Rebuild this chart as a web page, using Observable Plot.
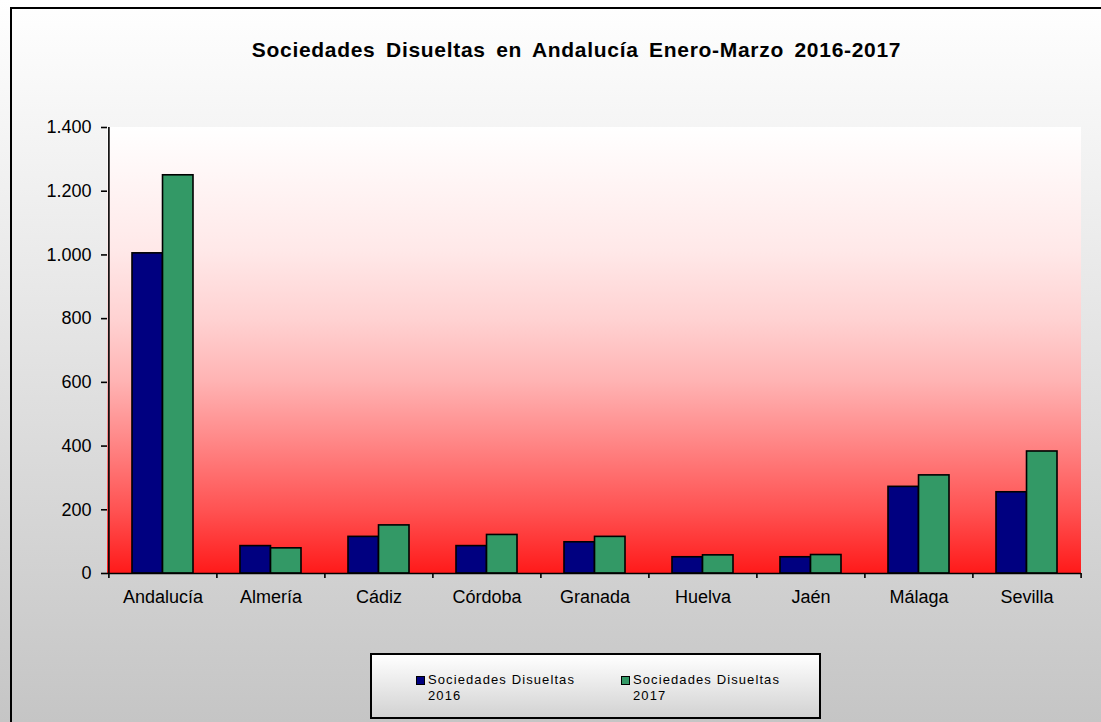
<!DOCTYPE html>
<html>
<head>
<meta charset="utf-8">
<script src="https://cdn.jsdelivr.net/npm/d3@7"></script>
<script src="https://cdn.jsdelivr.net/npm/@observablehq/plot@0.6"></script>
<style>
  html, body { margin: 0; padding: 0; }
  body { width: 1101px; height: 722px; overflow: hidden; font-family: "Liberation Sans", Arial, sans-serif; }
  #page { position: relative; width: 1101px; height: 722px; overflow: hidden;
          background: linear-gradient(#ffffff 0%, #c5c5c5 100%); }
  #box { position: absolute; left: 10px; top: 7px; width: 1200px; height: 800px; border: 2px solid #000; box-sizing: border-box; }
  #title { position: absolute; left: 0; width: 1153px; top: 38px; text-align: center;
           font-weight: bold; font-size: 21px; letter-spacing: 0.7px; word-spacing: 4px; color: #000; }
  #chart { position: absolute; left: 0; top: 0; }
  #legend { position: absolute; left: 370px; top: 653px; width: 451px; height: 66px; box-sizing: border-box;
            border: 2px solid #000; background: linear-gradient(#ffffff, #d2d2d2); font-size: 13px; letter-spacing: 1.1px; }
  .item { position: absolute; top: 17px; line-height: 16px; }
  .sw { position: absolute; left: -12px; top: 4px; width: 7px; height: 7px; border: 1px solid #000; }
</style>
</head>
<body>
<div id="page">
  <div id="box"></div>
  <div id="title">Sociedades Disueltas en Andalucía Enero-Marzo 2016-2017</div>
  <div id="chart"></div>
  <div id="legend"></div>
</div>
<script>
const provincias = ["Andalucía", "Almería", "Cádiz", "Córdoba", "Granada", "Huelva", "Jaén", "Málaga", "Sevilla"];
const disueltas2016 = [1005, 86, 115, 86, 98, 51, 51, 272, 255];
const disueltas2017 = [1250, 79, 151, 121, 115, 57, 58, 308, 383];
const yTicks = [0, 200, 400, 600, 800, 1000, 1200, 1400];
const seriesNames = ["Sociedades Disueltas 2016", "Sociedades Disueltas 2017"];
const seriesColors = ["#000080", "#339966"];

const rows2016 = provincias.map((p, i) => ({provincia: p, valor: disueltas2016[i]}));
const rows2017 = provincias.map((p, i) => ({provincia: p, valor: disueltas2017[i]}));

const W = 1101, H = 620;
const mL = 107, mR = 20, mT = 127, mB = 47;
const step = (W - mL - mR) / provincias.length;
const padInner = 0.436;
const bw = step * (1 - padInner);

const locale = d3.formatLocale({decimal: ",", thousands: ".", grouping: [3], currency: ["", " €"]});
const fmt = locale.format(",d");

// custom mark: gradient background of the plot area
function bgGradient(index, scales, values, dims) {
  const ns = "http://www.w3.org/2000/svg";
  const g = document.createElementNS(ns, "g");
  const defs = document.createElementNS(ns, "defs");
  const lg = document.createElementNS(ns, "linearGradient");
  lg.setAttribute("id", "plotbg");
  lg.setAttribute("x1", "0"); lg.setAttribute("y1", "0");
  lg.setAttribute("x2", "0"); lg.setAttribute("y2", "1");
  [["0%", "#ffffff"], ["28%", "#ffe8e8"], ["43%", "#ffd2d2"], ["57%", "#ffb3b3"],
   ["71%", "#ff8585"], ["86%", "#ff5252"], ["100%", "#ff1a1a"]].forEach(([o, c]) => {
    const s = document.createElementNS(ns, "stop");
    s.setAttribute("offset", o); s.setAttribute("stop-color", c);
    lg.appendChild(s);
  });
  defs.appendChild(lg);
  g.appendChild(defs);
  const r = document.createElementNS(ns, "rect");
  r.setAttribute("x", dims.marginLeft);
  r.setAttribute("y", dims.marginTop);
  r.setAttribute("width", dims.width - dims.marginLeft - dims.marginRight);
  r.setAttribute("height", dims.height - dims.marginTop - dims.marginBottom);
  r.setAttribute("fill", "url(#plotbg)");
  g.appendChild(r);
  return g;
}

const plot = Plot.plot({
  width: W, height: H,
  marginLeft: mL, marginRight: mR, marginTop: mT, marginBottom: mB,
  style: {background: "transparent", fontFamily: "Liberation Sans, Arial, sans-serif", fontSize: "18px", color: "#000", overflow: "visible"},
  x: {domain: provincias, paddingInner: padInner, paddingOuter: padInner / 2, label: null},
  y: {domain: [0, 1400], label: null},
  marks: [
    bgGradient,
    Plot.barY(rows2016, {x: "provincia", y: "valor", fill: seriesColors[0], stroke: "#000", strokeWidth: 1.6, insetRight: bw / 2}),
    Plot.barY(rows2017, {x: "provincia", y: "valor", fill: seriesColors[1], stroke: "#000", strokeWidth: 1.6, insetLeft: bw / 2}),
    // axis lines
    Plot.ruleY([0], {stroke: "#000", strokeWidth: 1.6}),
    Plot.ruleX([provincias[0]], {y1: 0, y2: 1400, dx: -step / 2, stroke: "#000", strokeWidth: 1.6}),
    // category boundary ticks
    Plot.ruleX(provincias, {y1: 0, y2: -16, dx: -step / 2, stroke: "#000", strokeWidth: 1.6}),
    Plot.ruleX([provincias[provincias.length - 1]], {y1: 0, y2: -16, dx: step / 2, stroke: "#000", strokeWidth: 1.6}),
    Plot.axisY({ticks: yTicks, tickFormat: fmt, tickSize: 6, tickPadding: 10, stroke: "#000", strokeWidth: 1.6, fontSize: 18, style: {letterSpacing: "1.5px"}}),
    Plot.axisX({tickSize: 0, tickPadding: 17, fontSize: 18, style: {letterSpacing: "1.2px"}})
  ]
});
document.getElementById("chart").appendChild(plot);

// legend
const leg = document.getElementById("legend");
const lefts = [56, 261];
seriesNames.forEach((name, i) => {
  const parts = name.split(" ");
  const yr = parts.pop();
  const it = document.createElement("div");
  it.className = "item";
  it.style.left = lefts[i] + "px";
  it.innerHTML = `<span class="sw" style="background:${seriesColors[i]}"></span>${parts.join(" ")}<br>${yr}`;
  leg.appendChild(it);
});
</script>
</body>
</html>
